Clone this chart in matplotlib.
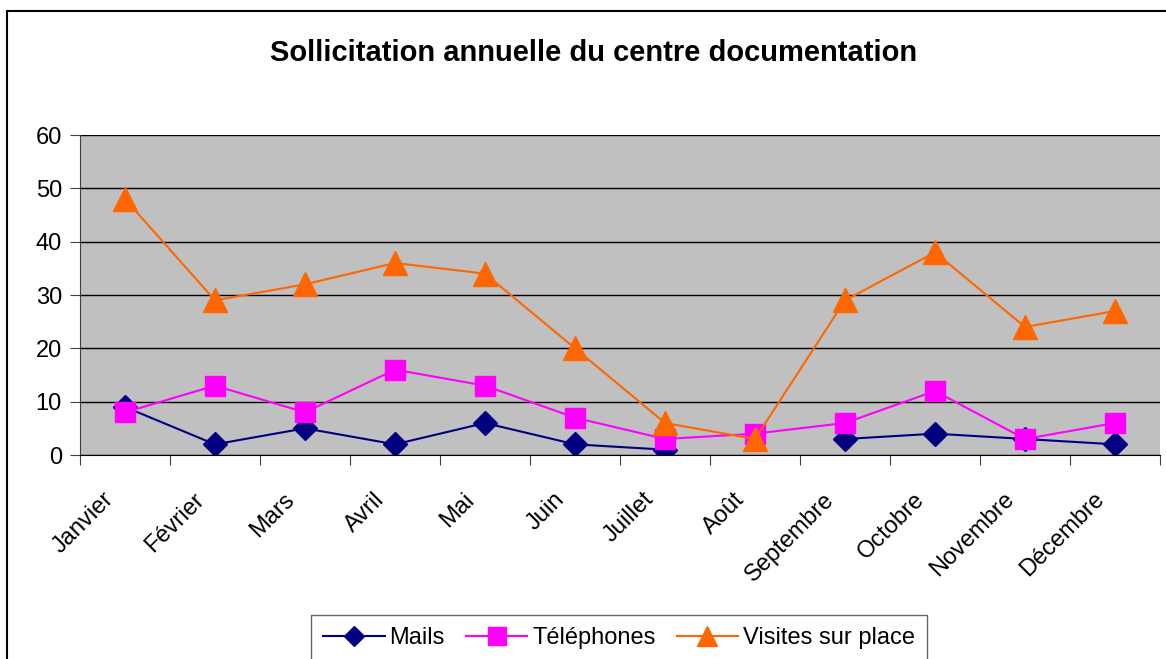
import numpy as np
import matplotlib
matplotlib.use('Agg')
import matplotlib.pyplot as plt
import matplotlib.transforms as mtransforms
from matplotlib.patches import Rectangle

plt.rcParams['font.family'] = ['Liberation Sans', 'DejaVu Sans']

mois = ['Janvier', 'Février', 'Mars', 'Avril', 'Mai', 'Juin', 'Juillet',
        'Août', 'Septembre', 'Octobre', 'Novembre', 'Décembre']
mails = [9, 2, 5, 2, 6, 2, 1, np.nan, 3, 4, 3, 2]
telephones = [8, 13, 8, 16, 13, 7, 3, 4, 6, 12, 3, 6]
visites = [48, 29, 32, 36, 34, 20, 6, 3, 29, 38, 24, 27]

fig = plt.figure(figsize=(11.66, 6.59), dpi=100)

# cadre du graphique
fig.patches.append(Rectangle((7/1166, -0.01), 1.1, 1 - 11/659 + 0.01,
                             transform=fig.transFigure, fill=False,
                             edgecolor='black', linewidth=1.5))

ax = fig.add_axes([80/1166, 1 - 455/659, 1080/1166, 320/659])
ax.set_facecolor('#C0C0C0')

x = np.arange(len(mois)) + 0.5
ax.plot(x, mails, color='#000080', marker='D', markersize=12, linewidth=1.5, label='Mails')
ax.plot(x, telephones, color='#FF00FF', marker='s', markersize=15, linewidth=1.5, label='Téléphones')
ax.plot(x, visites, color='#FF6600', marker='^', markersize=17, linewidth=1.5, label='Visites sur place')

ax.set_xlim(0, 12)
ax.set_ylim(0, 60)
ax.set_yticks(range(0, 61, 10))
ax.yaxis.grid(True, color='black', linewidth=1)
ax.set_axisbelow(True)

ax.set_xticks(np.arange(0, 13), minor=False)
ax.set_xticklabels([])
ax.set_xticks(x, minor=True)
ax.set_xticklabels(mois, minor=True, rotation=45, ha='right', rotation_mode='anchor', fontsize=17)
ax.tick_params(axis='x', which='minor', length=0, pad=14)
ax.tick_params(axis='x', which='major', length=7, color='#404040', direction='out')
ax.tick_params(axis='y', length=7, color='#404040', labelsize=17, pad=6)

# décaler les étiquettes du mois vers la gauche et le bas
decal = mtransforms.ScaledTranslation(-22/100, -14/100, fig.dpi_scale_trans)
for lab in ax.xaxis.get_minorticklabels():
    lab.set_transform(lab.get_transform() + decal)

for side in ['top', 'right']:
    ax.spines[side].set_visible(False)
ax.spines['left'].set_color('#404040')
ax.spines['bottom'].set_color('black')

fig.text(594/1166, 1 - 53/659, 'Sollicitation annuelle du centre documentation',
         ha='center', va='center', fontsize=21, fontweight='bold')

leg = fig.legend(loc='upper center', bbox_to_anchor=(619/1166, 1 - 615/659), ncol=3,
                 frameon=True, fancybox=False, edgecolor='#404040', fontsize=17,
                 handlelength=2.6, handletextpad=0.2, columnspacing=0.9,
                 borderpad=0.5, borderaxespad=0, markerscale=0.85)
leg.get_frame().set_linewidth(1)

fig.savefig('out.png', dpi=100)
